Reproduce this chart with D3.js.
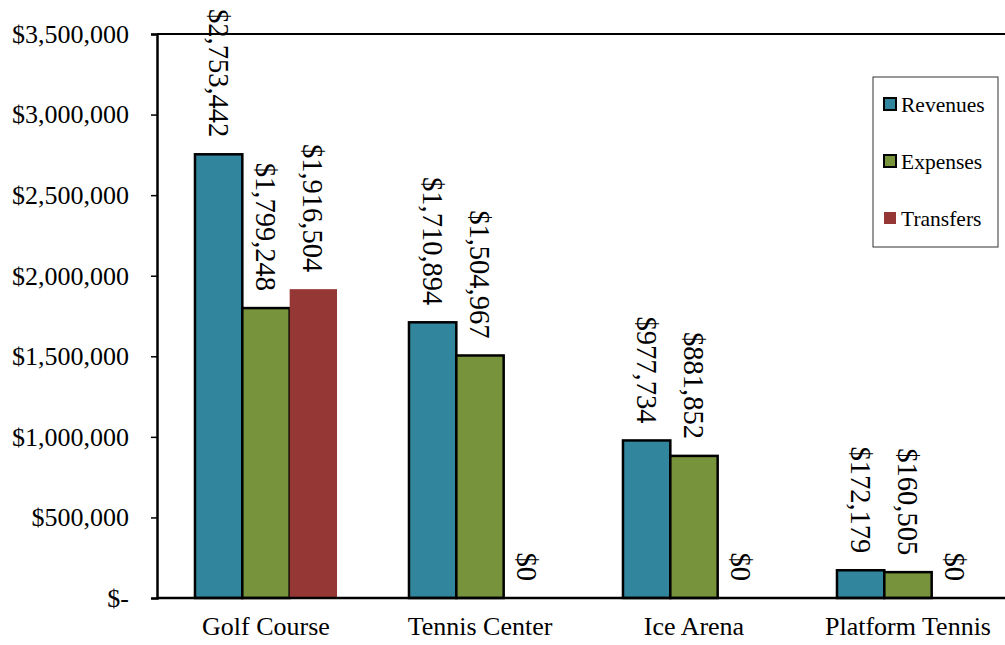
<!DOCTYPE html>
<html>
<head>
<meta charset="utf-8">
<script src="https://cdn.jsdelivr.net/npm/d3@7.9.0/dist/d3.min.js"></script>
<style>
  html, body { margin: 0; padding: 0; background: #fff; }
  svg { display: block; font-family: "Liberation Serif", "Times New Roman", serif; }
</style>
</head>
<body>
<svg id="chart" width="1005" height="645"></svg>
<script>
const categories = ['Golf Course', 'Tennis Center', 'Ice Arena', 'Platform Tennis'];
const series = ['Revenues', 'Expenses', 'Transfers'];
const revenues = [2753442, 1710894, 977734, 172179];
const expenses = [1799248, 1504967, 881852, 160505];
const transfers = [1916504, 0, 0, 0];
const yTicks = [0, 500000, 1000000, 1500000, 2000000, 2500000, 3000000, 3500000];

const colors = { Revenues: '#31859c', Expenses: '#77933c', Transfers: '#953735' };
const outlined = { Revenues: true, Expenses: true, Transfers: false };
const serif = '"Liberation Serif", "Times New Roman", serif';

const values = { Revenues: revenues, Expenses: expenses, Transfers: transfers };
const rows = categories.map((c, i) => ({
  category: c,
  bars: series.map(s => ({ key: s, value: values[s][i] }))
}));

const svg = d3.select('#chart');
const plotLeft = 157, plotTop = 34, plotBottom = 598, plotRight = 1015;

const y = d3.scaleLinear().domain([0, 3500000]).range([plotBottom, plotTop]);
const x0 = d3.scaleBand().domain(categories).range([plotLeft + 2, plotRight]);
const x1 = d3.scaleBand().domain(series).range([0, x0.bandwidth()]).paddingInner(0).paddingOuter(0.76);

// top border of plot area
svg.append('line')
  .attr('x1', plotLeft).attr('x2', plotRight)
  .attr('y1', plotTop).attr('y2', plotTop)
  .attr('stroke', '#000').attr('stroke-width', 2);

// bars
const groups = svg.append('g').selectAll('g')
  .data(rows).join('g')
  .attr('transform', d => `translate(${x0(d.category)},0)`);

groups.selectAll('rect')
  .data(d => d.bars).join('rect')
  .attr('x', d => x1(d.key))
  .attr('width', x1.bandwidth())
  .attr('y', d => y(d.value))
  .attr('height', d => y(0) - y(d.value))
  .attr('fill', d => colors[d.key])
  .attr('stroke', d => outlined[d.key] && d.value > 0 ? '#000' : 'none')
  .attr('stroke-width', 2.5);

// rotated value labels
const fmt = d3.format(',');
groups.selectAll('text')
  .data(d => d.bars).join('text')
  .attr('transform', d => `translate(${x1(d.key) + x1.bandwidth() / 2},${y(d.value) - 17}) rotate(90)`)
  .attr('text-anchor', 'end')
  .attr('dy', '0.35em')
  .attr('font-family', serif)
  .attr('font-size', 28.5)
  .attr('fill', '#000')
  .text(d => '$' + fmt(d.value));

// y axis
const yAxis = svg.append('g')
  .attr('transform', `translate(${plotLeft},0)`)
  .call(d3.axisLeft(y).tickValues(yTicks).tickSize(6).tickPadding(22)
    .tickFormat(v => v === 0 ? '$-' : '$' + fmt(v)));
yAxis.select('.domain').attr('stroke', '#000').attr('stroke-width', 2.5);
yAxis.selectAll('.tick line').attr('stroke', '#000').attr('stroke-width', 1.5);
yAxis.selectAll('.tick text')
  .attr('font-size', 26).attr('fill', '#000')
  .attr('font-family', serif);

// x axis
const xAxis = svg.append('g')
  .attr('transform', `translate(0,${plotBottom})`)
  .call(d3.axisBottom(x0).tickSize(0).tickPadding(19));
xAxis.select('.domain').attr('stroke', '#000').attr('stroke-width', 2.5)
  .attr('d', `M${plotLeft},0H${plotRight}`);
xAxis.selectAll('.tick text')
  .attr('font-size', 26).attr('fill', '#000')
  .attr('font-family', serif);

// legend
const legend = svg.append('g').attr('transform', 'translate(873,77)');
legend.append('rect')
  .attr('width', 125).attr('height', 170)
  .attr('fill', '#fff').attr('stroke', '#333').attr('stroke-width', 1);
const items = legend.selectAll('g.item')
  .data(series).join('g')
  .attr('class', 'item')
  .attr('transform', (d, i) => `translate(0,${27 + i * 57})`);
items.append('rect')
  .attr('x', 11).attr('y', -6).attr('width', 12).attr('height', 12)
  .attr('fill', d => colors[d])
  .attr('stroke', d => outlined[d] ? '#000' : 'none')
  .attr('stroke-width', 2);
items.append('text')
  .attr('x', 28).attr('dy', '0.35em')
  .attr('font-family', serif)
  .attr('font-size', 21.5)
  .attr('fill', '#000')
  .text(d => d);
</script>
</body>
</html>
